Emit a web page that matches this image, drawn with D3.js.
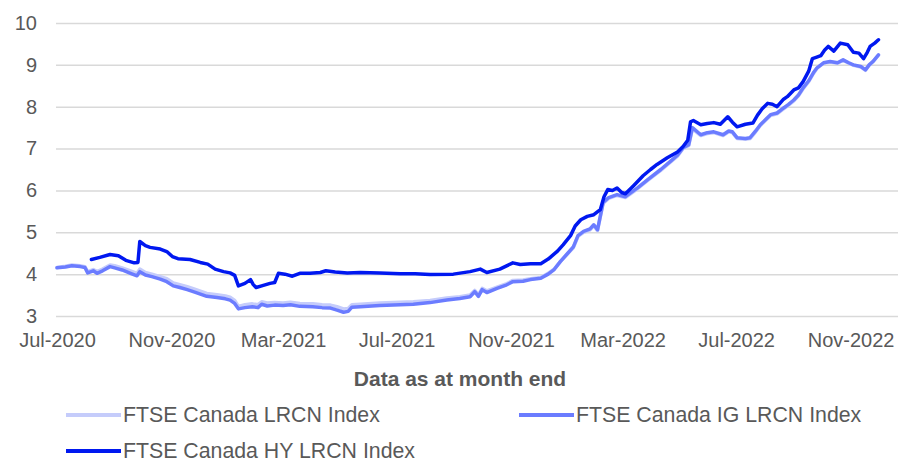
<!DOCTYPE html>
<html>
<head>
<meta charset="utf-8">
<script src="https://cdn.jsdelivr.net/npm/d3@7"></script>
<style>
  body { margin: 0; background: #fff; }
  svg text { font-family: "Liberation Sans", Arial, sans-serif; fill: #595959; }
</style>
</head>
<body>
<div id="chart"></div>
<script>
const yTicks = [3, 4, 5, 6, 7, 8, 9, 10];
const xTickDates = ["2020-07-01", "2020-11-01", "2021-03-01", "2021-07-01", "2021-11-01", "2022-03-01", "2022-07-01", "2022-11-01"];

const seriesNames = ["FTSE Canada LRCN Index", "FTSE Canada IG LRCN Index", "FTSE Canada HY LRCN Index"];
const seriesColors = ["#c5ccfb", "#6b7cff", "#0018f0"];

// IG and LRCN share the same dates
const igDates = [
  "2020-07-01", "2020-07-10", "2020-07-17", "2020-07-26", "2020-07-31", "2020-08-03", "2020-08-09", "2020-08-13",
  "2020-08-19", "2020-08-27", "2020-09-01", "2020-09-09", "2020-09-18", "2020-09-25", "2020-09-28", "2020-10-04",
  "2020-10-11", "2020-10-20", "2020-10-27", "2020-11-03", "2020-11-10", "2020-11-18", "2020-11-26", "2020-12-09",
  "2020-12-20", "2020-12-29", "2021-01-03", "2021-01-08", "2021-01-12", "2021-01-19", "2021-01-27", "2021-02-02",
  "2021-02-06", "2021-02-12", "2021-02-20", "2021-03-01", "2021-03-09", "2021-03-19", "2021-04-02", "2021-04-12",
  "2021-04-21", "2021-04-28", "2021-05-05", "2021-05-10", "2021-05-14", "2021-05-23", "2021-06-13", "2021-07-05",
  "2021-07-19", "2021-08-06", "2021-08-24", "2021-09-07", "2021-09-18", "2021-09-23", "2021-09-27", "2021-10-01",
  "2021-10-06", "2021-10-17", "2021-10-26", "2021-11-03", "2021-11-14", "2021-11-22", "2021-12-03", "2021-12-11",
  "2021-12-17", "2021-12-24", "2022-01-01", "2022-01-07", "2022-01-12", "2022-01-18", "2022-01-25", "2022-01-29",
  "2022-02-02", "2022-02-08", "2022-02-14", "2022-02-23", "2022-03-04", "2022-03-17", "2022-03-28", "2022-04-11",
  "2022-04-21", "2022-04-29", "2022-05-05", "2022-05-11", "2022-05-15", "2022-05-24", "2022-05-31", "2022-06-07",
  "2022-06-17", "2022-06-23", "2022-06-27", "2022-07-02", "2022-07-11", "2022-07-16", "2022-07-22", "2022-07-27",
  "2022-08-02", "2022-08-07", "2022-08-14", "2022-08-21", "2022-08-26", "2022-09-01", "2022-09-06", "2022-09-11",
  "2022-09-17", "2022-09-22", "2022-09-26", "2022-10-03", "2022-10-10", "2022-10-18", "2022-10-24", "2022-10-30",
  "2022-11-04", "2022-11-12", "2022-11-17", "2022-11-21", "2022-11-25", "2022-12-01"
];
const igValues = [
  4.15, 4.17, 4.20, 4.18, 4.16, 4.03, 4.08, 4.02,
  4.08, 4.18, 4.15, 4.10, 4.02, 3.96, 4.06, 3.98,
  3.94, 3.88, 3.82, 3.72, 3.68, 3.63, 3.57, 3.47,
  3.44, 3.41, 3.38, 3.30, 3.17, 3.20, 3.22, 3.20,
  3.28, 3.24, 3.26, 3.25, 3.27, 3.23, 3.22, 3.20,
  3.19, 3.14, 3.09, 3.11, 3.21, 3.22, 3.25, 3.27,
  3.28, 3.32, 3.38, 3.42, 3.46, 3.58, 3.47, 3.63,
  3.56, 3.66, 3.73, 3.82, 3.83, 3.87, 3.90, 4.00,
  4.10, 4.30, 4.50, 4.65, 4.92, 5.02, 5.08, 5.18,
  5.06, 5.71, 5.83, 5.90, 5.85, 6.06, 6.26, 6.50,
  6.69, 6.84, 7.02, 7.09, 7.50, 7.33, 7.38, 7.40,
  7.33, 7.42, 7.40, 7.26, 7.24, 7.26, 7.42, 7.57,
  7.70, 7.81, 7.85, 7.97, 8.05, 8.16, 8.28, 8.45,
  8.62, 8.81, 8.93, 9.05, 9.08, 9.05, 9.12, 9.05,
  9.00, 8.96, 8.88, 9.00, 9.08, 9.24
];
const lrcnValues = [
  4.16, 4.19, 4.22, 4.20, 4.18, 4.06, 4.11, 4.06,
  4.12, 4.22, 4.20, 4.15, 4.08, 4.02, 4.12, 4.04,
  4.00, 3.94, 3.89, 3.79, 3.75, 3.70, 3.64, 3.54,
  3.51, 3.48, 3.45, 3.37, 3.23, 3.27, 3.29, 3.27,
  3.34, 3.31, 3.32, 3.31, 3.33, 3.30, 3.29, 3.27,
  3.26, 3.22, 3.17, 3.18, 3.27, 3.28, 3.31, 3.33,
  3.34, 3.37, 3.43, 3.46, 3.50, 3.61, 3.51, 3.66,
  3.60, 3.69, 3.76, 3.85, 3.86, 3.89, 3.92, 4.02,
  4.11, 4.30, 4.49, 4.63, 4.90, 5.00, 5.06, 5.16,
  5.04, 5.69, 5.81, 5.88, 5.83, 6.04, 6.24, 6.48,
  6.67, 6.82, 7.00, 7.07, 7.47, 7.31, 7.36, 7.38,
  7.31, 7.40, 7.38, 7.24, 7.22, 7.24, 7.40, 7.55,
  7.68, 7.79, 7.83, 7.95, 8.03, 8.14, 8.26, 8.43,
  8.60, 8.79, 8.92, 9.04, 9.07, 9.04, 9.11, 9.04,
  8.99, 8.95, 8.87, 8.99, 9.07, 9.23
];

const hyDates = [
  "2020-08-07", "2020-08-16", "2020-08-27", "2020-09-05", "2020-09-13", "2020-09-22", "2020-09-26", "2020-09-28",
  "2020-10-04", "2020-10-09", "2020-10-20", "2020-10-27", "2020-11-02", "2020-11-08", "2020-11-21", "2020-12-02",
  "2020-12-10", "2020-12-18", "2020-12-27", "2021-01-03", "2021-01-08", "2021-01-12", "2021-01-19", "2021-01-25",
  "2021-01-28", "2021-01-31", "2021-02-06", "2021-02-15", "2021-02-20", "2021-02-24", "2021-03-03", "2021-03-11",
  "2021-03-19", "2021-03-30", "2021-04-10", "2021-04-16", "2021-04-26", "2021-05-09", "2021-05-23", "2021-06-13",
  "2021-07-05", "2021-07-21", "2021-08-06", "2021-08-31", "2021-09-18", "2021-09-29", "2021-10-06", "2021-10-20",
  "2021-11-03", "2021-11-11", "2021-11-22", "2021-12-03", "2021-12-11", "2021-12-21", "2021-12-27", "2022-01-04",
  "2022-01-09", "2022-01-15", "2022-01-22", "2022-01-29", "2022-02-05", "2022-02-09", "2022-02-13", "2022-02-18",
  "2022-02-23", "2022-02-28", "2022-03-04", "2022-03-13", "2022-03-23", "2022-03-31", "2022-04-07", "2022-04-18",
  "2022-04-29", "2022-05-05", "2022-05-10", "2022-05-13", "2022-05-16", "2022-05-24", "2022-05-31", "2022-06-07",
  "2022-06-14", "2022-06-22", "2022-06-27", "2022-07-02", "2022-07-11", "2022-07-19", "2022-07-24", "2022-07-29",
  "2022-08-04", "2022-08-09", "2022-08-14", "2022-08-21", "2022-08-25", "2022-09-01", "2022-09-06", "2022-09-11",
  "2022-09-17", "2022-09-21", "2022-09-25", "2022-09-30", "2022-10-04", "2022-10-08", "2022-10-14", "2022-10-21",
  "2022-10-29", "2022-11-04", "2022-11-10", "2022-11-15", "2022-11-19", "2022-11-22", "2022-11-27", "2022-12-01"
];
const hyValues = [
  4.35, 4.40, 4.47, 4.44, 4.33, 4.27, 4.28, 4.78,
  4.68, 4.64, 4.60, 4.54, 4.42, 4.37, 4.35, 4.28,
  4.24, 4.12, 4.06, 4.03, 3.97, 3.72, 3.78, 3.87,
  3.75, 3.68, 3.72, 3.78, 3.80, 4.02, 4.00, 3.95,
  4.02, 4.02, 4.04, 4.08, 4.05, 4.03, 4.04, 4.03,
  4.01, 4.01, 3.99, 4.00, 4.06, 4.12, 4.04, 4.12,
  4.27, 4.23, 4.25, 4.25, 4.36, 4.55, 4.70, 4.92,
  5.15, 5.30, 5.38, 5.42, 5.54, 5.85, 6.02, 6.00,
  6.06, 5.95, 5.92, 6.12, 6.35, 6.50, 6.62, 6.78,
  6.92, 7.05, 7.20, 7.64, 7.67, 7.57, 7.60, 7.62,
  7.58, 7.76, 7.63, 7.52, 7.58, 7.61, 7.80, 7.95,
  8.08, 8.06, 8.00, 8.18, 8.24, 8.40, 8.45, 8.60,
  8.85, 9.15, 9.18, 9.22, 9.35, 9.44, 9.33, 9.52,
  9.48, 9.30, 9.28, 9.15, 9.30, 9.44, 9.52, 9.60
];

const W = 898;
const H = 461;
const margin = { top: 23, right: 0, bottom: 145, left: 57 };
const parse = d3.timeParse("%Y-%m-%d");

const toPoints = (dates, values) => dates.map((d, i) => ({ date: parse(d), value: values[i] }));
const series = [
  { name: seriesNames[0], color: seriesColors[0], points: toPoints(igDates, lrcnValues) },
  { name: seriesNames[1], color: seriesColors[1], points: toPoints(igDates, igValues) },
  { name: seriesNames[2], color: seriesColors[2], points: toPoints(hyDates, hyValues) },
];

const x = d3.scaleTime()
  .domain([parse("2020-07-01"), parse("2022-12-22")])
  .range([margin.left, W - margin.right]);

const y = d3.scaleLinear()
  .domain([3, 10])
  .range([H - margin.bottom, margin.top]);

const svg = d3.select("#chart")
  .append("svg")
  .attr("width", W)
  .attr("height", H);

// grid + y labels
svg.append("g")
  .attr("transform", `translate(${margin.left - 1},0)`)
  .call(d3.axisLeft(y).tickValues(yTicks).tickSize(-(W - margin.left + 1)).tickPadding(19).tickFormat(d3.format("d")))
  .call((g) => g.select(".domain").remove())
  .call((g) => g.selectAll(".tick line").attr("stroke", "#d9d9d9").attr("stroke-width", 1.5))
  .call((g) => g.selectAll(".tick text").style("font-size", "20px").attr("fill", "#595959"));

// x labels
svg.append("g")
  .attr("transform", `translate(0,${H - margin.bottom})`)
  .call(d3.axisBottom(x).tickValues(xTickDates.map(parse)).tickSize(0).tickPadding(17).tickFormat(d3.timeFormat("%b-%Y")))
  .call((g) => g.select(".domain").remove())
  .call((g) => g.selectAll(".tick text").style("font-size", "20px").attr("fill", "#595959"));

const line = d3.line()
  .x((d) => x(d.date))
  .y((d) => y(d.value));

svg.append("g")
  .selectAll("path")
  .data(series)
  .join("path")
  .attr("fill", "none")
  .attr("stroke", (d) => d.color)
  .attr("stroke-width", 3.5)
  .attr("stroke-linejoin", "round")
  .attr("stroke-linecap", "round")
  .attr("d", (d) => line(d.points));

svg.append("text")
  .attr("x", 460)
  .attr("y", 386)
  .attr("text-anchor", "middle")
  .style("font-size", "21px")
  .style("font-weight", "bold")
  .text("Data as at month end");

const legend = svg.append("g")
  .selectAll("g")
  .data(series)
  .join("g")
  .attr("transform", (d, i) => `translate(${[66, 519][i % 2]},${415 + Math.floor(i / 2) * 36})`);

legend.append("line")
  .attr("x1", 0)
  .attr("x2", 55)
  .attr("stroke", (d) => d.color)
  .attr("stroke-width", 4);

legend.append("text")
  .attr("x", 57)
  .attr("dy", "0.35em")
  .style("font-size", "21.3px")
  .text((d) => d.name);
</script>
</body>
</html>
